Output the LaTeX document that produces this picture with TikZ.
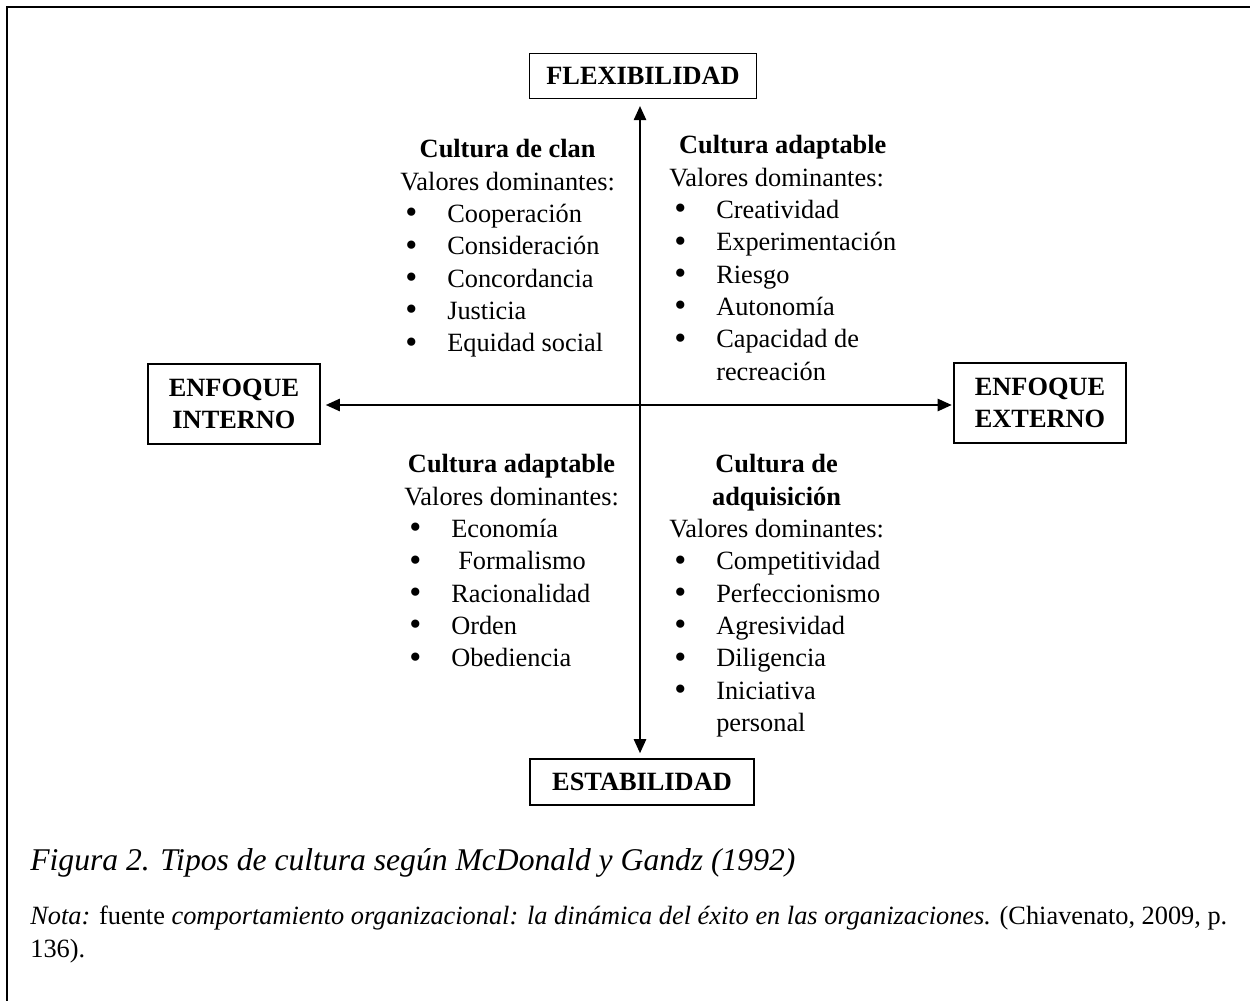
\documentclass[tikz,border=0pt]{standalone}
\usepackage{fontspec}
\setmainfont{Liberation Serif}
\usepackage{xcolor}
\definecolor{cMain}{HTML}{000000}
\usepackage{tikz}
\usetikzlibrary{positioning,arrows.meta}
\newcommand{\bodysize}{\fontsize{15}{18.4}\selectfont}
\newcommand{\ititle}[1]{\multicolumn{2}{@{}c@{}}{\textbf{#1}}\\}
\newcommand{\ivalues}{\multicolumn{2}{@{}l@{}}{Valores dominantes:}\\}
\newcommand{\iitem}[1]{\raisebox{-0.6pt}{\scalebox{1.3}{\textbullet}} & #1\\}
\tikzset{
  axis-box/.style={draw=cMain,line width=0.6pt,inner sep=0pt,align=center,
    font=\bodysize\bfseries},
  axis-arrow/.style={{Triangle[length=8pt,width=7pt]}-{Triangle[length=8pt,width=7pt]},
    line width=1pt,draw=cMain},
  quad-text/.style={inner sep=0pt,anchor=north west,font=\bodysize},
  frame-line/.style={line width=1.2pt,draw=cMain},
  caption-text/.style={inner sep=0pt,anchor=base west,
    font=\fontsize{18}{21}\selectfont\itshape},
  note-text/.style={inner sep=0pt,anchor=base west,align=left,
    font=\fontsize{15}{18.7}\selectfont},
}

\begin{document}
\begin{tikzpicture}[x=0.02cm,y=-0.02cm]
  \useasboundingbox (0,0) rectangle (1250,1000);
  \draw[frame-line] (7,1010) -- (7,7) -- (1260,7);
  \coordinate (center) at (640,405);
  % ejes
  \node[axis-box,minimum width=227*0.02cm,minimum height=45*0.02cm] (flex) at (643,76) {FLEXIBILIDAD};
  \node[axis-box,minimum width=224*0.02cm,minimum height=46*0.02cm] (estab) at (642,782) {ESTABILIDAD};
  \node[axis-box,minimum width=172*0.02cm,minimum height=80*0.02cm] (intern) at (234,404) {ENFOQUE\\INTERNO};
  \node[axis-box,minimum width=172*0.02cm,minimum height=80*0.02cm] (extern) at (1040,403) {ENFOQUE\\EXTERNO};
  \draw[axis-arrow,shorten <=4pt,shorten >=3pt] (flex.south -| center) -- (estab.north -| center);
  \draw[axis-arrow,shorten <=3pt,shorten >=1pt] (intern.east |- center) -- (extern.west |- center);
  % cuadrantes
  \node[quad-text] (clan) at (400,135) {\begin{tabular}{@{\hspace{2.8pt}}p{23.9pt}@{}l@{}}
    \ititle{Cultura de clan}\ivalues
    \iitem{Cooperación}\iitem{Consideración}\iitem{Concordancia}\iitem{Justicia}\iitem{Equidad social}
  \end{tabular}};
  \node[quad-text] (adapt-up) at (669,131) {\begin{tabular}{@{\hspace{2.8pt}}p{23.9pt}@{}l@{}}
    \ititle{Cultura adaptable}\ivalues
    \iitem{Creatividad}\iitem{Experimentación}\iitem{Riesgo}\iitem{Autonomía}\iitem{Capacidad de}
    & recreación\\
  \end{tabular}};
  \node[quad-text] (adapt-low) at (404,450) {\begin{tabular}{@{\hspace{2.8pt}}p{23.9pt}@{}l@{}}
    \ititle{Cultura adaptable}\ivalues
    \iitem{Economía}\iitem{\hspace{4pt}Formalismo}\iitem{Racionalidad}\iitem{Orden}\iitem{Obediencia}
  \end{tabular}};
  \node[quad-text] (adq) at (669,450) {\begin{tabular}{@{\hspace{2.8pt}}p{23.9pt}@{}l@{}}
    \ititle{Cultura de}\ititle{adquisición}\ivalues
    \iitem{Competitividad}\iitem{Perfeccionismo}\iitem{Agresividad}\iitem{Diligencia}\iitem{Iniciativa}
    & personal\\
  \end{tabular}};
  % pie de figura
  \node[caption-text] (fig) at (30,870) {Figura 2. Tipos de cultura según McDonald y Gandz (1992)};
  \node[note-text] (nota) at (30,957) {\textit{Nota:} fuente \textit{comportamiento organizacional: la dinámica del éxito en las organizaciones.} (Chiavenato, 2009, p.\\136).};
\end{tikzpicture}
\end{document}
